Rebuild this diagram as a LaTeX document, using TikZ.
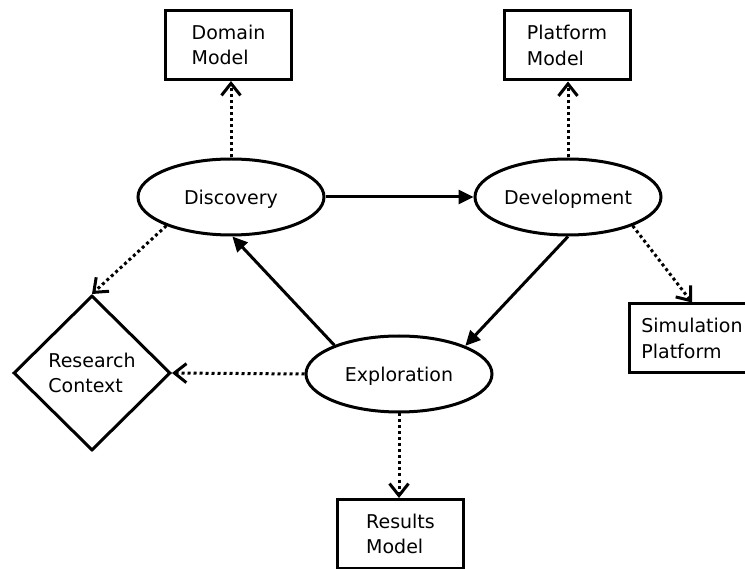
\documentclass[tikz,border=0pt]{standalone}
\usepackage{fontspec}
\setmainfont{DejaVu Sans}
\usetikzlibrary{shapes.geometric,arrows.meta}
\tikzset{
  every node/.style={font=\fontsize{19}{25.3}\selectfont, inner sep=0pt},
  phase/.style={ellipse, draw, line width=3pt, minimum width=186pt, minimum height=76pt, text depth=0pt},
  artefact/.style={rectangle, draw, line width=3pt, minimum width=126pt, minimum height=69pt, align=left},
  context/.style={diamond, draw, line width=3pt, minimum width=157pt, minimum height=155pt, align=left},
  flow/.style={line width=3pt, -{Triangle[length=15pt,width=14pt]}},
  yields/.style={line width=3pt, dash pattern=on 3pt off 3pt,
    -{Straight Barb[length=12pt,width=19pt,line width=3pt]}},
}
\begin{document}
\begin{tikzpicture}[x=1pt,y=-1pt]
  \clip (0,0) rectangle (745,569);
  \fill[white] (0,0) rectangle (745,569);

  % process phases
  \node[phase] (disc) at (231,197) {Discovery};
  \node[phase] (dev)  at (568,197) {Development};
  \node[phase] (expl) at (399,374) {Exploration};

  % produced artefacts
  \node[artefact] (domain)   at (228.5,45)  {Domain\\Model};
  \node[artefact] (platform) at (567,45.5)  {Platform\\Model};
  \node[artefact] (sim)      at (692,338.5) {Simulation\\Platform};
  \node[artefact] (results)  at (400.5,534) {Results\\Model};
  \node[context]  (rc)       at (92,373)    {Research\\Context};

  % cycle between the phases
  \draw[flow] (disc) -- (dev);
  \draw[flow] (dev.south) -- (expl.23);
  \draw[flow] (expl.156) -- (disc.-88);

  % outputs of each phase
  \draw[yields] (disc.north) -- (disc.north |- domain.south);
  \draw[yields] (dev.north) -- (dev.north |- platform.south);
  \draw[yields] (dev.336) -- (sim.north);
  \draw[yields] (disc.204) -- (rc.north);
  \draw[yields] (expl.west) -- (rc.east);
  \draw[yields] (expl.south) -- (expl.south |- results.north);
\end{tikzpicture}
\end{document}
